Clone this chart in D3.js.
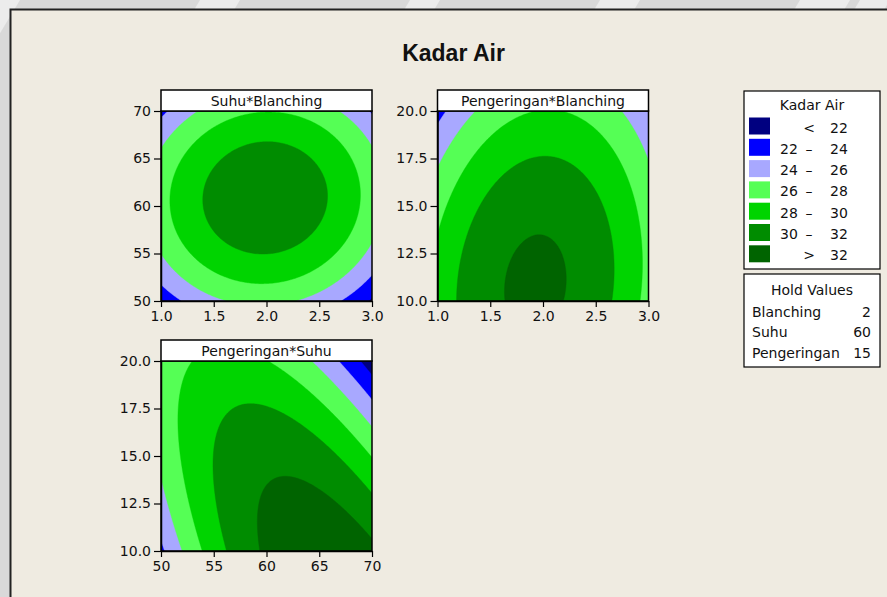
<!DOCTYPE html>
<html>
<head>
<meta charset="utf-8">
<script src="https://cdn.jsdelivr.net/npm/d3@7"></script>
<style>
  html, body { margin: 0; padding: 0; background: #d9d9d9; }
  svg { display: block; }
  text { font-family: "DejaVu Sans", Verdana, sans-serif; fill: #111; }
</style>
</head>
<body>
<svg id="chart" width="887" height="597"></svg>
<script>
// ---- Response surface for "Kadar Air" (coded units: -1 .. +1) ----
const factors     = ["Blanching", "Suhu", "Pengeringan"];
const factorLow   = [1, 50, 10];
const factorHigh  = [3, 70, 20];
const holdValues  = [2, 60, 15];
const intercept   = 31.47;
const linearCoef  = [-0.135, 0.74, -2.128];     // A, B, C
const squareCoef  = [-4.3, -4.3, -1.3];         // A², B², C²
const interactCoef = [0.3, 0.585, -3.7];        // AB, AC, BC

// contour levels and legend
const levels      = [22, 24, 26, 28, 30, 32];
const levelColors = ["#000080", "#0000ff", "#a8a8ff", "#55ff55", "#00d400", "#008c00", "#006400"];
const legendLow   = ["", "22", "24", "26", "28", "30", ""];
const legendHigh  = ["22", "24", "26", "28", "30", "32", "32"];
const legendSign  = ["<", "–", "–", "–", "–", "–", ">"];

// tick labels per factor
const factorTicks = [[1.0, 1.5, 2.0, 2.5, 3.0], [50, 55, 60, 65, 70], [10.0, 12.5, 15.0, 17.5, 20.0]];
const tickFormats = [".1f", "d", ".1f"];

// panels: [x factor, y factor]
const panelFactors = [[0, 1], [0, 2], [1, 2]];

function coded(k, v) {
  const mid = (factorLow[k] + factorHigh[k]) / 2, half = (factorHigh[k] - factorLow[k]) / 2;
  return (v - mid) / half;
}
function response(vals) {
  const x = vals.map((v, k) => coded(k, v));
  let y = intercept;
  for (let k = 0; k < 3; k++) y += linearCoef[k] * x[k] + squareCoef[k] * x[k] * x[k];
  y += interactCoef[0] * x[0] * x[1] + interactCoef[1] * x[0] * x[2] + interactCoef[2] * x[1] * x[2];
  return y;
}

const svg = d3.select("#chart");

// page background band with faint diagonal streaks
const streaks = [[-40, 60], [200, 40], [410, 30], [600, 40], [800, 50], [860, 30]];
svg.append("g").selectAll("path").data(streaks).join("path")
  .attr("d", d => `M${d[0]},0 L${d[0] + d[1]},0 L${d[0] + d[1] - 60},100 L${d[0] - 60},100 Z`)
  .attr("fill", "#f4f4f4").attr("opacity", 0.7);

svg.append("rect").attr("x", 10.5).attr("y", 9.5).attr("width", 900).attr("height", 600)
  .attr("fill", "#efebe1").attr("stroke", "#222").attr("stroke-width", 2);

svg.append("text").attr("x", 453.5).attr("y", 61).attr("text-anchor", "middle")
  .style("font-family", "'Liberation Sans', Arial, sans-serif")
  .style("font-weight", "bold").style("font-size", "23px").text("Kadar Air");

const plotW = 211, plotH = 190, headH = 21;
const panelPos = [[161, 111], [437.5, 111], [161, 361]];
const nGrid = 160;

panelFactors.forEach((pf, pi) => {
  const [fx, fy] = pf;
  const [left, top] = panelPos[pi];
  const xs = d3.scaleLinear().domain([factorLow[fx], factorHigh[fx]]).range([left, left + plotW]);
  const ys = d3.scaleLinear().domain([factorLow[fy], factorHigh[fy]]).range([top + plotH, top]);

  // sample surface at cell centres, other factor at its hold value
  const values = new Array(nGrid * nGrid);
  for (let j = 0; j < nGrid; j++) {
    for (let i = 0; i < nGrid; i++) {
      const v = holdValues.slice();
      v[fx] = xs.domain()[0] + (i + 0.5) / nGrid * (xs.domain()[1] - xs.domain()[0]);
      v[fy] = ys.domain()[0] + (j + 0.5) / nGrid * (ys.domain()[1] - ys.domain()[0]);
      values[j * nGrid + i] = response(v);
    }
  }
  const bands = d3.contours().size([nGrid, nGrid]).thresholds(levels)(values);
  const proj = d3.geoTransform({
    point(px, py) {
      const dx = xs.domain(), dy = ys.domain();
      this.stream.point(xs(dx[0] + px / nGrid * (dx[1] - dx[0])), ys(dy[0] + py / nGrid * (dy[1] - dy[0])));
    }
  });
  const path = d3.geoPath(proj);

  const g = svg.append("g");
  const clipId = "clip" + pi;
  g.append("clipPath").attr("id", clipId).append("rect")
    .attr("x", left).attr("y", top).attr("width", plotW).attr("height", plotH);
  const fillG = g.append("g").attr("clip-path", `url(#${clipId})`);
  fillG.append("rect").attr("x", left).attr("y", top).attr("width", plotW).attr("height", plotH)
    .attr("fill", levelColors[0]);
  fillG.selectAll("path").data(bands).join("path")
    .attr("d", path)
    .attr("fill", (d, k) => levelColors[k + 1])
    .attr("stroke", (d, k) => levelColors[k + 1]).attr("stroke-width", 0.4);

  g.append("rect").attr("x", left).attr("y", top).attr("width", plotW).attr("height", plotH)
    .attr("fill", "none").attr("stroke", "#000").attr("stroke-width", 1.5);

  // header strip
  g.append("rect").attr("x", left).attr("y", top - headH).attr("width", plotW).attr("height", headH)
    .attr("fill", "#fff").attr("stroke", "#000").attr("stroke-width", 1.5);
  g.append("text").attr("x", left + plotW / 2).attr("y", top - 5).attr("text-anchor", "middle")
    .style("font-size", "14px").text(factors[fy] + "*" + factors[fx]);

  const xAxis = d3.axisBottom(xs).tickValues(factorTicks[fx]).tickFormat(d3.format(tickFormats[fx]))
    .tickSize(6).tickSizeOuter(0).tickPadding(4);
  const yAxis = d3.axisLeft(ys).tickValues(factorTicks[fy]).tickFormat(d3.format(tickFormats[fy]))
    .tickSize(7).tickSizeOuter(0).tickPadding(3);
  const xg = g.append("g").attr("transform", `translate(0,${top + plotH})`).call(xAxis);
  const yg = g.append("g").attr("transform", `translate(${left},0)`).call(yAxis);
  [xg, yg].forEach(ax => {
    ax.select(".domain").attr("stroke", "#000").attr("stroke-width", 1.5);
    ax.selectAll(".tick line").attr("stroke", "#000").attr("stroke-width", 1.2);
    ax.selectAll(".tick text").style("font-size", "14px").style("font-family", "'DejaVu Sans', sans-serif").attr("fill", "#111");
  });
});

// ---- legend ----
const lg = svg.append("g");
lg.append("rect").attr("x", 744).attr("y", 91).attr("width", 136).attr("height", 178)
  .attr("fill", "#fff").attr("stroke", "#000").attr("stroke-width", 1.2);
lg.append("text").attr("x", 812).attr("y", 110).attr("text-anchor", "middle")
  .style("font-size", "14px").text("Kadar Air");
const rows = lg.selectAll("g.row").data(levelColors).join("g").attr("class", "row")
  .attr("transform", (d, i) => `translate(0,${117.5 + i * 21.3})`);
rows.append("rect").attr("x", 749).attr("y", 0).attr("width", 21).attr("height", 17)
  .attr("fill", d => d);
rows.append("text").attr("x", 780).attr("y", 15).style("font-size", "14px")
  .text((d, i) => legendLow[i]);
rows.append("text").attr("x", 809).attr("y", 15).attr("text-anchor", "middle").style("font-size", "14px")
  .text((d, i) => legendSign[i]);
rows.append("text").attr("x", 830).attr("y", 15).style("font-size", "14px")
  .text((d, i) => legendHigh[i]);

// ---- hold values ----
const hg = svg.append("g");
hg.append("rect").attr("x", 744).attr("y", 274).attr("width", 136).attr("height", 93)
  .attr("fill", "#fff").attr("stroke", "#000").attr("stroke-width", 1.2);
hg.append("text").attr("x", 812).attr("y", 295).attr("text-anchor", "middle")
  .style("font-size", "14px").text("Hold Values");
hg.selectAll("text.lbl").data(factors).join("text").attr("class", "lbl")
  .attr("x", 752).attr("y", (d, i) => 316.5 + i * 20.5).style("font-size", "14px").text(d => d);
hg.selectAll("text.val").data(holdValues).join("text").attr("class", "val")
  .attr("x", 871).attr("y", (d, i) => 316.5 + i * 20.5).attr("text-anchor", "end")
  .style("font-size", "14px").text(d => d);
</script>
</body>
</html>
